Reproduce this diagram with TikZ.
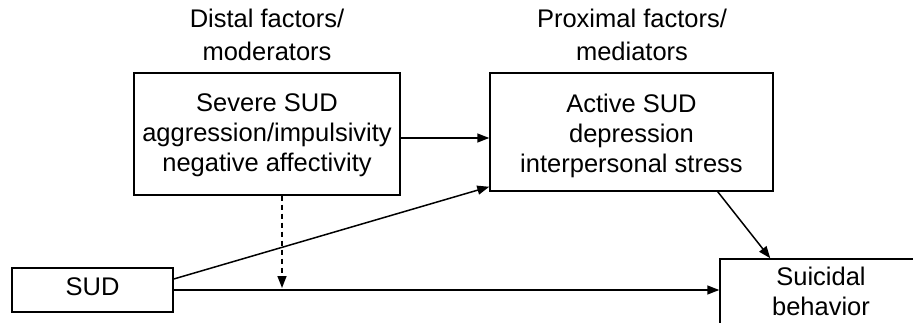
\documentclass[tikz,border=0pt]{standalone}
\usepackage{fontspec}
\setmainfont{Liberation Sans}
\usetikzlibrary{arrows.meta,calc}
\begin{document}
\begin{tikzpicture}[x=1pt,y=-1pt,
  box/.style={draw,line width=1.5pt,inner sep=0pt},
  lbl/.style={inner sep=0pt,align=center,font=\fontsize{25.5}{30}\selectfont},
  ttl/.style={inner sep=0pt,align=center,font=\fontsize{25.5}{33}\selectfont},
  arr/.style={line width=1.5pt,-{Triangle[length=12pt,width=9pt]}}]
\useasboundingbox (0,0) rectangle (913,323);
\begin{scope}
\clip (0,0) rectangle (913,323);
\node[box,minimum width=266pt,minimum height=122pt] (b1) at (267,134) {};
\node[lbl] (b1t) at (267,135.5) {Severe SUD\\aggression/impulsivity\\negative affectivity};
\node[box,minimum width=283pt,minimum height=118pt] (b2) at (631.5,132) {};
\node[lbl] (b2t) at (631.5,135.5) {Active SUD\\depression\\interpersonal stress};
\node[box,minimum width=161pt,minimum height=44pt] (sud) at (92.5,290) {};
\node[lbl] (sudt) at (92.5,287) {SUD};
\node[box,minimum width=205pt,minimum height=100pt] (sb) at (822.5,309) {};
\node[lbl] (sbt) at (821,291.7) {Suicidal\\behavior};
\node[ttl] (t1) at (267,35.2) {Distal factors/\\moderators};
\node[ttl] (t2) at (632,35.2) {Proximal factors/\\mediators};
\coordinate (m) at (0,138);
\draw[arr] (b1.east |- m) -- (b2.west |- m);
\draw[arr] ([yshift=11pt]sud.east) -- ([yshift=5pt]b2.south west);
\draw[arr] (sud.east) -- (sud.east -| sb.west);
\draw[arr,dash pattern=on 5pt off 4pt] ([xshift=15pt]b1.south) -- ([xshift=15pt,yshift=2pt]b1.south |- sud.east);
\draw[arr] ([xshift=-56pt]b2.south east) -- ([xshift=51pt]sb.north west);
\end{scope}
\end{tikzpicture}
\end{document}
